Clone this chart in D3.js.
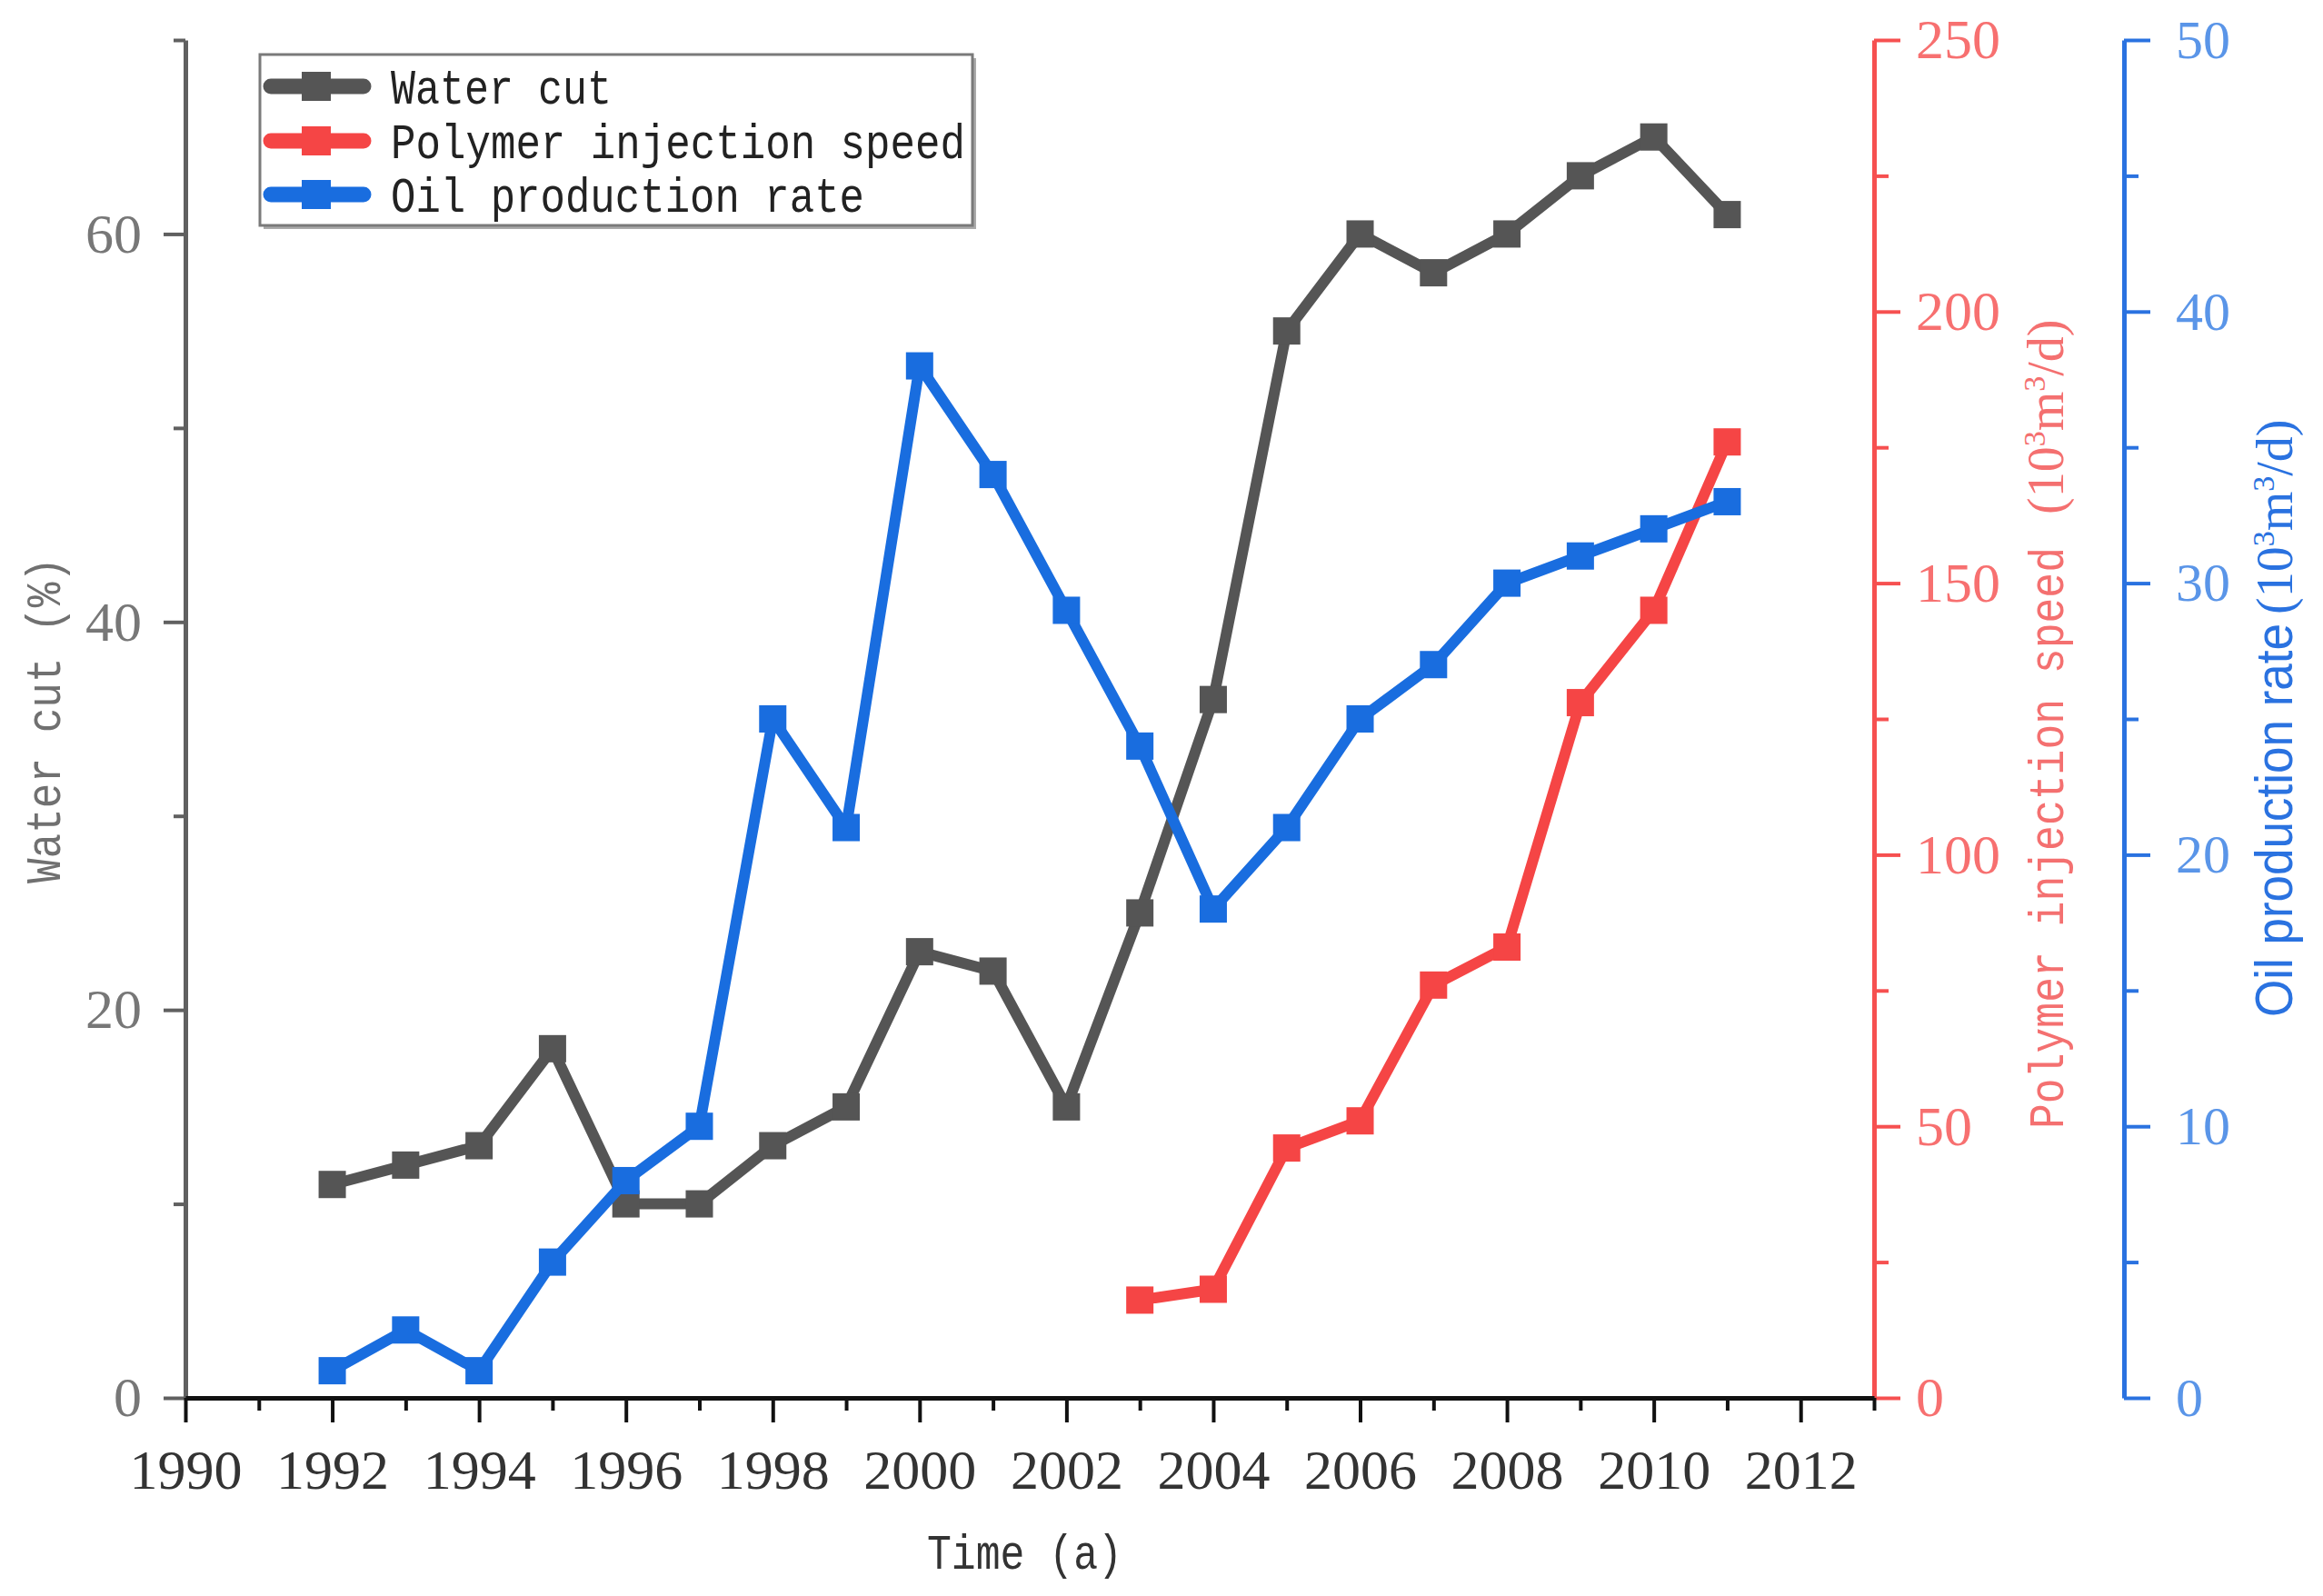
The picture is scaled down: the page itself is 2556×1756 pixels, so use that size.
<!DOCTYPE html>
<html><head><meta charset="utf-8">
<script src="https://cdn.jsdelivr.net/npm/d3@7/dist/d3.min.js"></script>
<style>body{margin:0;background:#fff}</style>
</head><body>
<svg id="c" width="2556" height="1756" xmlns="http://www.w3.org/2000/svg"></svg>
<script>
// ---- data ----
const years = [1992,1993,1994,1995,1996,1997,1998,1999,2000,2001,2002,2003,2004,2005,2006,2007,2008,2009,2010,2011];
const waterCut = [11,12,13,18,10,10,13,15,23,22,15,25,36,55,60,58,60,63,65,61];
const oilRate = [1,2.5,1,5,8,10,25,21,38,34,29,24,18,21,25,27,30,31,32,33];
const polymerYears = [2003,2004,2005,2006,2007,2008,2009,2010,2011];
const polymerSpeed = [18,20,46,51,76,83,128,145,176];
const xMajorTicks = [1990,1992,1994,1996,1998,2000,2002,2004,2006,2008,2010,2012];
const xMinorTicks = [1991,1993,1995,1997,1999,2001,2003,2005,2007,2009,2011,2013];
const leftTicks = [0,20,40,60];
const leftMinor = [10,30,50,70];
const redTicks = [0,50,100,150,200,250];
const redMinor = [25,75,125,175,225];
const blueTicks = [0,10,20,30,40,50];
const blueMinor = [5,15,25,35,45];
const legendLabels = ["Water cut","Polymer injection speed","Oil production rate"];

const cGray = "#555555", cRed = "#f54545", cBlue = "#196ddf";

const svg = d3.select("#c");
const x = d3.scaleLinear([1990, 2013], [204, 2062]);
const yL = d3.scaleLinear([0, 70], [1538, 44]);
const yR = d3.scaleLinear([0, 250], [1538, 44]);
const yB = d3.scaleLinear([0, 50], [1538, 44]);

function styleAxis(g, color, width, labelColor, fontSize, family) {
  g.select(".domain").attr("stroke", color).attr("stroke-width", width);
  g.selectAll(".tick line").attr("stroke", color).attr("stroke-width", width - 1);
  g.selectAll(".tick text").attr("fill", labelColor).attr("font-size", fontSize)
    .attr("font-family", family || "Liberation Serif");
}

// left axis
const gLm = svg.append("g").attr("transform", "translate(204,0)")
  .call(d3.axisLeft(yL).tickValues(leftMinor).tickSize(13).tickSizeOuter(0).tickFormat(""));
gLm.select(".domain").remove();
gLm.selectAll(".tick line").attr("stroke", "#606060").attr("stroke-width", 4);
const gL = svg.append("g").attr("transform", "translate(204,0)")
  .call(d3.axisLeft(yL).tickValues(leftTicks).tickSize(24).tickSizeOuter(0).tickPadding(24).tickFormat(d3.format("d")));
styleAxis(gL, "#606060", 5, "#777777", 62);

// red axis
const gRm = svg.append("g").attr("transform", "translate(2062,0)")
  .call(d3.axisRight(yR).tickValues(redMinor).tickSize(16).tickSizeOuter(0).tickFormat(""));
gRm.select(".domain").remove();
gRm.selectAll(".tick line").attr("stroke", "#f65050").attr("stroke-width", 4);
const gR = svg.append("g").attr("transform", "translate(2062,0)")
  .call(d3.axisRight(yR).tickValues(redTicks).tickSize(29).tickSizeOuter(0).tickPadding(17).tickFormat(d3.format("d")));
styleAxis(gR, "#f65050", 5, "#f77070", 62);

// blue axis
const gBm = svg.append("g").attr("transform", "translate(2337,0)")
  .call(d3.axisRight(yB).tickValues(blueMinor).tickSize(16).tickSizeOuter(0).tickFormat(""));
gBm.select(".domain").remove();
gBm.selectAll(".tick line").attr("stroke", "#2a72e0").attr("stroke-width", 4);
const gB = svg.append("g").attr("transform", "translate(2337,0)")
  .call(d3.axisRight(yB).tickValues(blueTicks).tickSize(29).tickSizeOuter(0).tickPadding(28).tickFormat(d3.format("d")));
styleAxis(gB, "#2a72e0", 5, "#5a95e8", 60);

// bottom axis
const gXm = svg.append("g").attr("transform", "translate(0,1538)")
  .call(d3.axisBottom(x).tickValues(xMinorTicks).tickSize(14).tickSizeOuter(0).tickFormat(""));
gXm.select(".domain").remove();
gXm.selectAll(".tick line").attr("stroke", "#111").attr("stroke-width", 4);
const gX = svg.append("g").attr("transform", "translate(0,1538)")
  .call(d3.axisBottom(x).tickValues(xMajorTicks).tickSize(27).tickSizeOuter(0).tickPadding(29).tickFormat(d3.format("d")));
styleAxis(gX, "#111", 5, "#333", 62);

// series
const line = d3.line();
function series(xs, vals, yScale, color) {
  const pts = xs.map((d, i) => [x(d), yScale(vals[i])]);
  svg.append("path").attr("d", line(pts)).attr("fill", "none")
    .attr("stroke", color).attr("stroke-width", 12).attr("stroke-linejoin", "round");
  svg.append("g").selectAll("rect").data(pts).join("rect")
    .attr("x", d => d[0] - 15).attr("y", d => d[1] - 15)
    .attr("width", 30).attr("height", 30).attr("fill", color);
}
series(years, waterCut, yL, cGray);
series(polymerYears, polymerSpeed, yR, cRed);
series(years, oilRate, yB, cBlue);

// legend
const lg = svg.append("g");
lg.append("rect").attr("x", 290).attr("y", 64).attr("width", 784).attr("height", 188).attr("fill", "#aaa");
lg.append("rect").attr("x", 286).attr("y", 60).attr("width", 784).attr("height", 188)
  .attr("fill", "#fff").attr("stroke", "#7a7a7a").attr("stroke-width", 3);
const legColors = [cGray, cRed, cBlue];
const legY = [95, 155, 214];
const legW = [243, 632, 521];
legendLabels.forEach((t, i) => {
  lg.append("line").attr("x1", 298).attr("x2", 400).attr("y1", legY[i]).attr("y2", legY[i])
    .attr("stroke", legColors[i]).attr("stroke-width", 17).attr("stroke-linecap", "round");
  lg.append("rect").attr("x", 332).attr("y", legY[i] - 16).attr("width", 32).attr("height", 32).attr("fill", legColors[i]);
  lg.append("text").attr("x", 430).attr("y", legY[i] + 19).text(t)
    .attr("font-family", "Liberation Mono").attr("font-size", 54).attr("fill", "#222")
    .attr("textLength", legW[i]).attr("lengthAdjust", "spacingAndGlyphs");
});

// axis titles
svg.append("text").attr("x", 1020).attr("y", 1726).text("Time (a)")
  .attr("font-family", "Liberation Mono").attr("font-size", 54).attr("fill", "#333")
  .attr("textLength", 215).attr("lengthAdjust", "spacingAndGlyphs");

svg.append("g").attr("transform", "translate(66,0) rotate(-90)")
  .append("text").attr("x", -972).attr("y", 0).text("Water cut (%)")
  .attr("font-family", "Liberation Mono").attr("font-size", 54).attr("fill", "#707070")
  .attr("textLength", 359).attr("lengthAdjust", "spacingAndGlyphs");

function unitText(g, u, color) {
  const t = g.append("text").attr("x", u).attr("y", 0)
    .attr("font-family", "Liberation Serif").attr("font-size", 56).attr("fill", color);
  t.append("tspan").text("(10");
  t.append("tspan").text("3").attr("font-size", 34).attr("dy", -20);
  t.append("tspan").text("m").attr("dy", 20);
  t.append("tspan").text("3").attr("font-size", 34).attr("dy", -20);
  t.append("tspan").text("/d)").attr("dy", 20);
}

const gRt = svg.append("g").attr("transform", "translate(2270,0) rotate(-90)");
gRt.append("text").attr("x", -1242).attr("y", 0).text("Polymer injection speed")
  .attr("font-family", "Liberation Mono").attr("font-size", 54).attr("fill", "#f47070")
  .attr("textLength", 640).attr("lengthAdjust", "spacingAndGlyphs");
unitText(gRt, -566, "#f47070");

const gBt = svg.append("g").attr("transform", "translate(2522,0) rotate(-90)");
gBt.append("text").attr("x", -1119).attr("y", 0).text("Oil production rate")
  .attr("font-family", "Liberation Sans Narrow, Liberation Sans").attr("font-size", 58).attr("fill", "#2a72e0")
  .attr("textLength", 433).attr("lengthAdjust", "spacingAndGlyphs");
unitText(gBt, -676, "#2a72e0");
</script>
</body></html>
